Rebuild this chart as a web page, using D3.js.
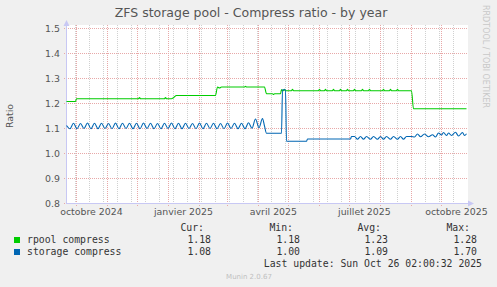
<!DOCTYPE html>
<html>
<head>
<meta charset="utf-8">
<script src="https://cdn.jsdelivr.net/npm/d3@7"></script>
<style>
body { margin: 0; background: #f0f0f0; }
svg { display: block; font-family: "DejaVu Sans", sans-serif; }
.mono { font-family: "DejaVu Sans Mono", monospace; font-size: 9.8px; fill: #333; }
</style>
</head>
<body>
<svg id="chart" width="497" height="287"></svg>
<script>
// time window of the munin "by year" graph (400 days)
var timeRange = ["2024-09-21T02:00:32", "2025-10-26T02:00:32"];

// y axis ticks
var yTicks = [0.8, 0.9, 1.0, 1.1, 1.2, 1.3, 1.4, 1.5];

// x labels (rrdtool centers them on the middle of the month)
var monthLabelDates = ["2024-10-01", "2025-01-01", "2025-04-01", "2025-07-01", "2025-10-01"];
var monthLabels = ["octobre 2024", "janvier 2025", "avril 2025", "juillet 2025", "octobre 2025"];

// rpool compress : days since start of graph / ratio
var rpoolDay = [0, 9, 10, 72, 73, 74, 98, 99, 100, 105, 107, 110, 149, 151, 153, 155, 178, 179, 180, 198, 200,
  206, 207, 208, 214, 215, 216, 217, 218, 219, 225, 226, 227, 252, 253, 254, 258, 259, 260, 266, 267, 268,
  273, 274, 275, 280, 281, 282, 287, 288, 289, 295, 296, 297, 302, 303, 304, 316, 317, 318, 323, 324, 325,
  330, 331, 332, 345, 347, 400];
var rpoolValue = [1.208, 1.208, 1.219, 1.219, 1.224, 1.219, 1.219, 1.224, 1.219, 1.219, 1.223, 1.232, 1.232, 1.266, 1.262, 1.266, 1.266, 1.269, 1.266, 1.266, 1.239,
  1.239, 1.236, 1.239, 1.239, 1.256, 1.251, 1.251, 1.257, 1.251, 1.251, 1.257, 1.251, 1.251, 1.257, 1.251, 1.251, 1.257, 1.251, 1.251, 1.257, 1.251,
  1.251, 1.257, 1.251, 1.251, 1.257, 1.251, 1.251, 1.257, 1.251, 1.251, 1.257, 1.251, 1.251, 1.257, 1.251, 1.251, 1.257, 1.251, 1.251, 1.257, 1.251,
  1.251, 1.257, 1.251, 1.251, 1.179, 1.179];

// storage compress : days since start of graph / ratio
var storageDay = [0, 3.5, 7, 10.5, 14, 17.5, 21, 24.5, 28, 31.5, 35, 38.5, 42, 45.5, 49, 52.5, 56, 59.5, 63, 66.5,
  70, 73.5, 77, 80.5, 84, 87.5, 91, 94.5, 98, 101.5, 105, 108.5, 112, 115.5, 119, 122.5, 126, 129.5, 133, 136.5,
  140, 143.5, 147, 150.5, 154, 157.5, 161, 164.5, 168, 171.5, 175, 178.5, 182, 185.5, 189, 192.5, 196, 198, 200,
  215, 216, 219, 220, 240, 241, 284, 285, 288, 291, 294, 297, 300, 304, 307, 311, 314, 317, 320, 324, 327, 331,
  334, 337, 340, 345, 348, 351, 354, 358, 362, 366, 369, 372, 375, 377, 380, 382, 385, 389, 392, 396, 398, 400];
var storageValue = [1.112, 1.099, 1.121, 1.099, 1.120, 1.100, 1.122, 1.099, 1.121, 1.099, 1.121, 1.100, 1.120, 1.099, 1.122, 1.099, 1.121, 1.100, 1.121, 1.099,
  1.121, 1.099, 1.122, 1.100, 1.121, 1.099, 1.120, 1.099, 1.121, 1.100, 1.122, 1.099, 1.121, 1.099, 1.121, 1.100, 1.120, 1.099, 1.122, 1.099,
  1.121, 1.100, 1.121, 1.099, 1.120, 1.099, 1.122, 1.100, 1.121, 1.099, 1.121, 1.099, 1.123, 1.101, 1.138, 1.103, 1.140, 1.110, 1.081,
  1.081, 1.255, 1.255, 1.049, 1.049, 1.058, 1.058, 1.068, 1.068, 1.057, 1.068, 1.057, 1.068, 1.057, 1.068, 1.057, 1.068, 1.057, 1.068, 1.057, 1.068, 1.057,
  1.068, 1.057, 1.068, 1.068, 1.066, 1.078, 1.067, 1.078, 1.067, 1.075, 1.066, 1.082, 1.074, 1.084, 1.072, 1.082, 1.072, 1.085, 1.070, 1.084, 1.072, 1.079];

// legend
var seriesNames = ["rpool compress", "storage compress"];
var seriesColors = ["#00cc00", "#0066b3"];
var statHeaders = ["Cur:", "Min:", "Avg:", "Max:"];
var rpoolStats = ["1.18", "1.18", "1.23", "1.28"];
var storageStats = ["1.08", "1.00", "1.09", "1.70"];
var lastUpdate = "Last update: Sun Oct 26 02:00:32 2025";

var svg = d3.select("#chart");
var parseTime = d3.timeParse("%Y-%m-%dT%H:%M:%S");
var parseDay = d3.timeParse("%Y-%m-%d");
var start = parseTime(timeRange[0]), end = parseTime(timeRange[1]);

var plotLeft = 66, plotRight = 466, plotTop = 28, plotBottom = 203;
var x = d3.scaleTime().domain([start, end]).range([plotLeft + 0.5, plotRight + 0.5]);
var y = d3.scaleLinear().domain([0.8, 1.5]).range([plotBottom + 0.5, plotTop + 0.5]);

function dayToDate(d) { return new Date(start.getTime() + d * 864e5); }

// canvas
svg.append("rect").attr("x", plotLeft).attr("y", 25).attr("width", 402).attr("height", plotBottom - 25)
  .attr("fill", "#ffffff");

// minor grid: every second monday
var minor = d3.timeMonday.range(new Date(2024, 8, 30), end, 2);
svg.append("g").selectAll("line").data(minor).enter().append("line")
  .attr("x1", d => Math.round(x(d)) + 0.5).attr("x2", d => Math.round(x(d)) + 0.5)
  .attr("y1", 25).attr("y2", plotBottom)
  .attr("stroke", "#d0d0d0").attr("stroke-dasharray", "1,1");

// major grid: months
var months = d3.timeMonth.range(start, end);
svg.append("g").selectAll("line").data(months).enter().append("line")
  .attr("x1", d => Math.round(x(d)) + 0.5).attr("x2", d => Math.round(x(d)) + 0.5)
  .attr("y1", 25).attr("y2", plotBottom + 3)
  .attr("stroke", "#e8a8a8").attr("stroke-dasharray", "1,1");

// horizontal grid
svg.append("g").selectAll("line").data(yTicks).enter().append("line")
  .attr("x1", plotLeft - 2).attr("x2", 468)
  .attr("y1", d => Math.round(y(d) - 0.5) + 0.5).attr("y2", d => Math.round(y(d) - 0.5) + 0.5)
  .attr("stroke", "#e8a8a8").attr("stroke-dasharray", "1,1");

// axes with arrows
var axisColor = "#c8c8f4";
svg.append("line").attr("x1", plotLeft + 0.5).attr("x2", plotLeft + 0.5).attr("y1", plotBottom + 0.5).attr("y2", 24)
  .attr("stroke", axisColor);
svg.append("path").attr("d", "M63.5,26L69.5,26L66.5,20Z").attr("fill", axisColor);
svg.append("line").attr("x1", plotLeft).attr("x2", 470).attr("y1", plotBottom + 0.5).attr("y2", plotBottom + 0.5)
  .attr("stroke", axisColor);
svg.append("path").attr("d", "M468,200.5L468,206.5L474,203.5Z").attr("fill", axisColor);

// y labels
svg.append("g").selectAll("text").data(yTicks).enter().append("text")
  .attr("x", 60).attr("y", d => y(d)).attr("dy", "0.36em")
  .attr("text-anchor", "end").attr("font-size", 9.4).attr("fill", "#555")
  .text(d => d.toFixed(1));

// x labels
svg.append("g").selectAll("text").data(monthLabelDates).enter().append("text")
  .attr("x", d => x(d3.timeDay.offset(parseDay(d), 15))).attr("y", 215)
  .attr("text-anchor", "middle").attr("font-size", 9.4).attr("fill", "#555")
  .text((d, i) => monthLabels[i]);

// series
var line = d3.line().x(d => x(dayToDate(d[0]))).y(d => y(d[1])).curve(d3.curveMonotoneX);
var rpool = rpoolDay.map((d, i) => [d, rpoolValue[i]]);
var storage = storageDay.map((d, i) => [d, storageValue[i]]);
svg.append("path").datum(rpool).attr("d", line).attr("fill", "none")
  .attr("stroke", seriesColors[0]).attr("stroke-width", 1.1);
svg.append("path").datum(storage).attr("d", line).attr("fill", "none")
  .attr("stroke", seriesColors[1]).attr("stroke-width", 1.1);

// title and axis label
svg.append("text").attr("x", 251).attr("y", 17).attr("text-anchor", "middle")
  .attr("font-size", 12.5).attr("fill", "#555")
  .text("ZFS storage pool - Compress ratio - by year");
svg.append("text").attr("transform", "translate(13,116) rotate(-90)")
  .attr("text-anchor", "middle").attr("font-size", 9.4).attr("fill", "#555").text("Ratio");
svg.append("text").attr("transform", "translate(483,5) rotate(90)")
  .attr("font-size", 8).attr("fill", "#c8c8c8").text("RRDTOOL / TOBI OETIKER");

// legend
var headEnds = [204, 293, 381, 470];
var valEnds = [211, 300, 388, 477];
svg.append("g").selectAll("text").data(statHeaders).enter().append("text")
  .attr("class", "mono").attr("x", (d, i) => headEnds[i]).attr("y", 231)
  .attr("text-anchor", "end").text(d => d);

[rpoolStats, storageStats].forEach(function(stats, r) {
  var yy = 243 + r * 12;
  svg.append("rect").attr("x", 14).attr("y", yy - 6).attr("width", 6).attr("height", 6)
    .attr("fill", seriesColors[r]);
  svg.append("text").attr("class", "mono").attr("x", 27).attr("y", yy).text(seriesNames[r]);
  svg.append("g").selectAll("text").data(stats).enter().append("text")
    .attr("class", "mono").attr("x", (d, i) => valEnds[i]).attr("y", yy)
    .attr("text-anchor", "end").text(d => d);
});

svg.append("text").attr("class", "mono").attr("x", 482).attr("y", 267)
  .attr("text-anchor", "end").text(lastUpdate);
svg.append("text").attr("x", 249).attr("y", 279).attr("text-anchor", "middle")
  .attr("font-size", 7).attr("fill", "#c0c0c0").text("Munin 2.0.67");
</script>
</body>
</html>
